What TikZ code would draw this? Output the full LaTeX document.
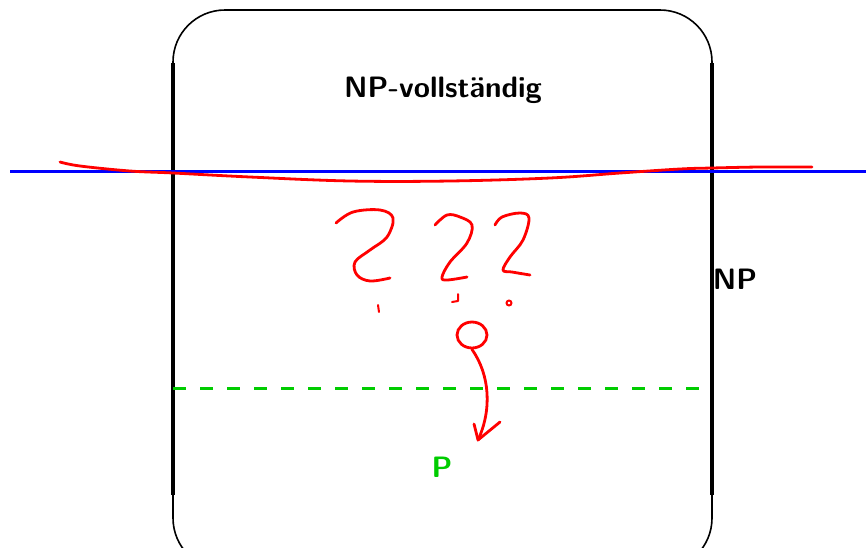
\documentclass[tikz,border=0pt]{standalone}
\usepackage{fontspec}
\usepackage{tikz}
\usetikzlibrary{arrows.meta,positioning,calc,shapes.geometric}
\definecolor{hand}{HTML}{FF0000}
\definecolor{cutblue}{HTML}{0000FF}
\definecolor{pgreen}{HTML}{00CC00}
\tikzset{
  boxframe/.style={draw=black, line width=1.6pt, rounded corners=52pt},
  boxside/.style={draw=black, line width=4pt},
  scribble/.style={draw=hand, line width=2.8pt, line cap=round, line join=round},
  setname/.style={font=\sffamily\bfseries\fontsize{29.5}{34}\selectfont, inner sep=0pt, anchor=base}
}

\begin{document}
\begin{tikzpicture}[x=1pt, y=-1pt]
  \useasboundingbox (0,0) rectangle (866,547);
  \clip (0,0) rectangle (866,547);
  % NP box
  \draw[boxframe] (173,10) rectangle (712,570);
  \draw[boxside] (173,63) -- (173,495);
  \draw[boxside] (712,63) -- (712,495);
  \node[setname] (npc) at (443,97) {NP-vollständig};
  \node[setname] (np) at (735,289) {NP};
  \node[setname, text=pgreen] (p) at (442,477) {P};
  % boundaries
  \draw[cutblue, line width=3pt] (10,171) -- (866,171);
  \draw[pgreen, line width=3pt, dash pattern=on 13pt off 14pt] (173,388) -- (700,388);
  \draw[scribble] plot[smooth, tension=0.6] coordinates {(60,162) (80,166) (130,171) (173,173) (250,177) (350,181) (450,181) (550,178) (620,173) (680,169) (712,168) (760,167) (812,167)};
  % question marks
  \draw[scribble] plot[smooth, tension=0.6] coordinates {(336,223) (353,212) (380,210) (393,218) (387,237) (370,250) (355,262) (357,275) (370,281) (390,278)};
  \draw[scribble] plot[smooth, tension=0.6] coordinates {(435,225) (447,215) (460,217) (472,225) (467,243) (450,262) (442,277) (447,280) (467,277)};
  \draw[scribble] plot[smooth, tension=0.6] coordinates {(495,225) (502,217) (520,213) (529,218) (523,240) (510,257) (503,270) (512,272) (530,275)};
  \draw[scribble, line width=2pt] (378,305) -- (379,312);
  \draw[scribble, line width=2pt] (458,294) -- (458,301) -- (452,302);
  \draw[scribble, line width=2pt] (509,303) circle (2.5);
  % the point and where it goes
  \node[ellipse, draw=hand, line width=2.8pt, minimum width=30pt, minimum height=26pt, inner sep=0pt] (pt) at (472,335) {};
  \coordinate (tip) at (478,440);
  \draw[scribble] (pt.south) .. controls (490,375) and (492,410) .. (tip);
  \draw[scribble] ($(tip)+(-4,-16)$) -- (tip) -- ($(tip)+(22,-18)$);
\end{tikzpicture}
\end{document}
